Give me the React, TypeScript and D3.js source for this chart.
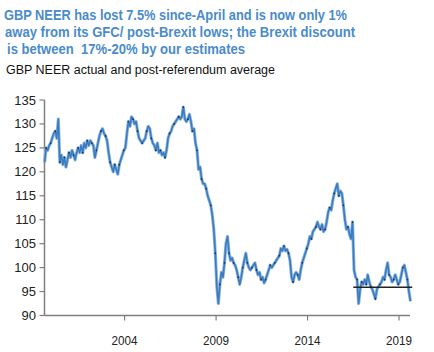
import React, { useEffect, useRef } from 'react';
import * as d3 from 'd3';

// monthly GBP NEER, Aug 1999 .. Aug 2019
const startYear = 1999 + 7 / 12;
const neer: number[] = [
  // 1999 Aug-Dec
  122, 125, 124.5, 125.5, 126,
  // 2000
  127, 128, 128.5, 127, 131, 122, 123.5, 121.5, 123, 121, 122.5, 124,
  // 2001
  123, 124.5, 123.5, 122.5, 124, 125, 124, 125.5, 124, 126, 125, 126.5,
  // 2002
  125.5, 126.5, 126, 125.5, 123, 124.5, 126, 127.5, 128.5, 129, 128, 127.5,
  // 2003
  126.5, 124, 122, 121, 120, 121.5, 120.5, 119.5, 121.5, 122.5, 123.5, 124.5,
  // 2004
  125, 128, 130.5, 129.5, 131.5, 131, 130, 130.5, 128.5, 127, 126.5, 126,
  // 2005
  126.5, 127, 128.5, 129.5, 129, 127, 126, 125.5, 124.5, 126, 124, 124.5,
  // 2006
  123.5, 124, 123, 124.5, 127, 128, 128.5, 129.5, 130, 130.5, 131, 131.5,
  // 2007
  131, 131.5, 133.5, 131, 130.5, 131, 132, 130.5, 128.5, 129, 126, 124.5,
  // 2008
  120.5, 121, 118.5, 117.5, 117.5, 116.5, 115, 114, 113, 111, 108, 103,
  // 2009
  96, 92.5, 96.5, 99, 98, 101, 105, 106.5, 103, 101.5, 102, 101,
  // 2010
  100.5, 99.5, 98, 96.5, 98, 100, 101.5, 103, 101, 100, 99.5, 100,
  // 2011
  100.5, 101, 99.5, 98.5, 99, 97.5, 98, 96.8, 97.5, 98.5, 99.5, 100.5,
  // 2012
  100, 100.5, 101, 101.5, 102, 102.5, 104, 103.5, 104.5, 103.5, 103.8, 103,
  // 2013
  101.5, 98, 97, 98.5, 99, 98.5, 97.5, 99.5, 101, 102, 103, 104,
  // 2014
  105, 106.5, 106, 107.5, 108, 108.5, 109.5, 108.5, 108, 109, 107.5, 108,
  // 2015
  109.5, 111.5, 112.5, 112, 114, 115.5, 116.5, 117.5, 115, 116, 115.5, 113,
  // 2016
  110, 108, 108.5, 107, 106, 109.5, 99.5, 98, 97.5, 92.5, 95.5, 97,
  // 2017
  96.5, 97.5, 96.5, 98.5, 97, 96, 95.5, 94.5, 93.5, 95.5, 96, 96.5,
  // 2018
  97, 98, 97.5, 99.5, 101, 98.5, 98, 97, 97.5, 98.5, 97.5, 96.5,
  // 2019 Jan-Aug
  97, 98.5, 100, 100.5, 99, 97.5, 95, 93,
];

const postRefAvg = 95.9;
const postRefSpan: [number, number] = [2016.5, 2019.72];

const yTicks = [90, 95, 100, 105, 110, 115, 120, 125, 130, 135];
const xTicks = [2004, 2009, 2014, 2019];

const titleLines = [
  'GBP NEER has lost 7.5% since-April and is now only 1%',
  'away from its GFC/ post-Brexit lows; the Brexit discount',
  'is between  17%-20% by our estimates',
];
const subtitle = 'GBP NEER actual and post-referendum average';

const W = 434;
const H = 352;

export default function App() {
  const svgRef = useRef<SVGSVGElement>(null);

  useEffect(() => {
    const svg = d3.select(svgRef.current);
    svg.selectAll('*').remove();

    const x = d3.scaleLinear().domain([1999.62, 2019.6]).range([44.5, 410]);
    const y = d3.scaleLinear().domain([90, 135]).range([315.5, 100]);

    // title
    const tl = [
      { x: 4, y: 19.5, len: 343 },
      { x: 5, y: 36.5, len: 350 },
      { x: 7, y: 54, len: 238 },
    ];
    titleLines.forEach((t, i) => {
      svg.append('text')
        .attr('x', tl[i].x)
        .attr('y', tl[i].y)
        .attr('font-family', 'Liberation Sans, Arial, sans-serif')
        .attr('font-size', 15.5)
        .attr('font-weight', 'bold')
        .attr('fill', '#4a8bcb')
        .attr('textLength', tl[i].len)
        .attr('lengthAdjust', 'spacingAndGlyphs')
        .attr('xml:space', 'preserve')
        .text(t);
    });

    svg.append('text')
      .attr('x', 6)
      .attr('y', 74)
      .attr('font-family', 'Liberation Sans, Arial, sans-serif')
      .attr('font-size', 12)
      .attr('fill', '#111')
      .attr('textLength', 269)
      .attr('lengthAdjust', 'spacingAndGlyphs')
      .text(subtitle);

    const axisColor = '#7f7f7f';

    // y axis
    svg.append('line')
      .attr('x1', x.range()[0]).attr('x2', x.range()[0])
      .attr('y1', y(135)).attr('y2', y(90))
      .attr('stroke', axisColor).attr('stroke-width', 1.5);
    yTicks.forEach(v => {
      svg.append('line')
        .attr('x1', x.range()[0] - 5).attr('x2', x.range()[0])
        .attr('y1', y(v)).attr('y2', y(v))
        .attr('stroke', axisColor).attr('stroke-width', 1.2);
      svg.append('text')
        .attr('x', 36)
        .attr('y', y(v) + 4.5)
        .attr('text-anchor', 'end')
        .attr('font-family', 'Liberation Sans, Arial, sans-serif')
        .attr('font-size', 13)
        .attr('fill', '#222')
        .text(v);
    });

    // x axis
    svg.append('line')
      .attr('x1', x.range()[0]).attr('x2', x.range()[1])
      .attr('y1', y(90)).attr('y2', y(90))
      .attr('stroke', axisColor).attr('stroke-width', 1.5);
    xTicks.forEach(v => {
      svg.append('line')
        .attr('x1', x(v)).attr('x2', x(v))
        .attr('y1', y(90)).attr('y2', y(90) + 5)
        .attr('stroke', axisColor).attr('stroke-width', 1.2);
      svg.append('text')
        .attr('x', x(v))
        .attr('y', 345)
        .attr('text-anchor', 'middle')
        .attr('font-family', 'Liberation Sans, Arial, sans-serif')
        .attr('font-size', 13)
        .attr('fill', '#222')
        .attr('textLength', 26)
        .attr('lengthAdjust', 'spacingAndGlyphs')
        .text(v);
    });

    const pts = neer.map((v, i) => ({ t: startYear + (i + 0.5) / 12, v }));

    const line = d3.line<{ t: number; v: number }>()
      .x(d => x(d.t))
      .y(d => y(d.v));

    svg.append('path')
      .datum(pts)
      .attr('fill', 'none')
      .attr('stroke', '#8fb7e0')
      .attr('stroke-width', 3.2)
      .attr('stroke-linejoin', 'round')
      .attr('d', line);

    svg.append('path')
      .datum(pts)
      .attr('fill', 'none')
      .attr('stroke', '#3b7bbf')
      .attr('stroke-width', 1.6)
      .attr('stroke-linejoin', 'round')
      .attr('d', line);

    svg.selectAll('.dot')
      .data(pts.filter((_, i) => i % 3 === 1))
      .enter().append('circle')
      .attr('class', 'dot')
      .attr('cx', d => x(d.t))
      .attr('cy', d => y(d.v))
      .attr('r', 0.9)
      .attr('fill', '#1d3550');

    // post-referendum average
    svg.append('line')
      .attr('x1', x(postRefSpan[0])).attr('x2', x(postRefSpan[1]))
      .attr('y1', y(postRefAvg)).attr('y2', y(postRefAvg))
      .attr('stroke', '#222').attr('stroke-width', 1.3);
  }, []);

  return (
    <svg
      ref={svgRef}
      width={W}
      height={H}
      style={{ position: 'absolute', left: 0, top: 0, background: '#fff' }}
    />
  );
}
